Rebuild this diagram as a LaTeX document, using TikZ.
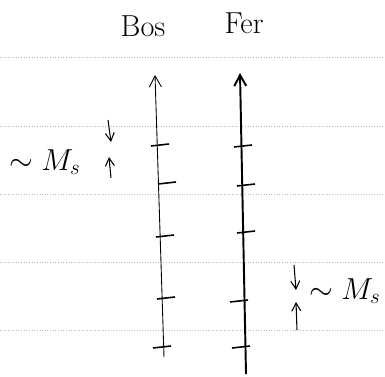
\documentclass[tikz,border=0pt]{standalone}
\usepackage{amsmath,amssymb}
\usetikzlibrary{arrows.meta,positioning}

\begin{document}
\begin{tikzpicture}[
  x=0.02cm, y=-0.02cm, >={Straight Barb[length=2.2mm, width=2.4mm]},
  rule/.style={gray!55, densely dotted, line width=0.5pt},
  axis/.style={->, line width=0.7pt},
  tick/.style={line width=0.9pt},
  gap/.style={->, line width=0.6pt, >={Straight Barb[length=1.6mm, width=1.8mm]}},
  lab/.style={font=\LARGE}]
\useasboundingbox (0,0) rectangle (385,376);
% ruled paper
\foreach \y in {57,126,194,262,330}
  \draw[rule] (0,\y) -- (385,\y);
% headings
\node[lab] (bos) at (143,26) {Bos};
\node[lab] (fer) at (244,23) {Fer};
% the two spectra
\coordinate (bos0) at (164,357);
\coordinate (bos1) at (155,75);
\coordinate (fer0) at (246,374);
\coordinate (fer1) at (240,73);
\draw[axis, line width=0.5pt] (bos0) -- (bos1);
\draw[axis, line width=1.1pt] (fer0) -- (fer1);
\foreach \x/\y in {160/145, 167/183, 165/236, 166/298, 162/347}
  \draw[tick] (\x-9,\y+1) -- (\x+9,\y-1);
\foreach \x/\y in {243/146, 246/185, 246/232, 239/301, 241/347}
  \draw[tick] (\x-9,\y+1) -- (\x+9,\y-1);
% splitting
\coordinate (la) at (108,120);
\coordinate (lb) at (111,142);
\coordinate (lc) at (111,178);
\coordinate (ld) at (109,157);
\draw[gap] (la) -- (lb);
\draw[gap] (lc) -- (ld);
\node[lab] (msl) at (45,162) {$\sim M_s$};
\coordinate (ra) at (294,265);
\coordinate (rb) at (296,290);
\coordinate (rc) at (297,330);
\coordinate (rd) at (296,302);
\draw[gap] (ra) -- (rb);
\draw[gap] (rc) -- (rd);
\node[lab] (msr) at (345,291) {$\sim M_s$};
\end{tikzpicture}
\end{document}
